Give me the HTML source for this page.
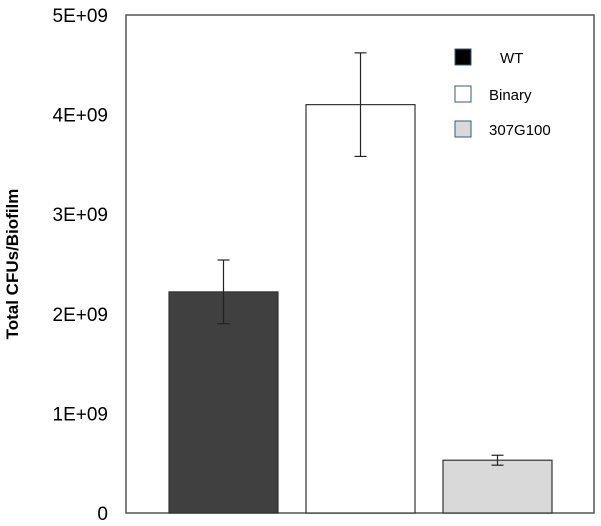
<!DOCTYPE html>
<html><head><meta charset="utf-8"><style>body{margin:0;background:#fff}svg{display:block}text{font-family:"Liberation Sans",sans-serif}</style></head>
<body>
<svg id="c" width="601" height="526">
<rect x="126" y="15" width="468" height="498" fill="none" stroke="#555" stroke-width="1.5"/>
<text x="18" y="264" transform="rotate(-90 18 264)" text-anchor="middle" font-size="17" font-weight="bold">Total CFUs/Biofilm</text>
<g id="ticks"></g><g id="bars"></g>
<g>
<rect x="455" y="49" width="16" height="16" fill="#000" stroke="#3a5a80"/>
<text x="500" y="63" font-size="15">WT</text>
<rect x="455" y="86" width="16" height="16" fill="#fff" stroke="#3a5a80"/>
<text x="489" y="100" font-size="15">Binary</text>
<rect x="455" y="121" width="16" height="16" fill="#d9d9d9" stroke="#3a5a80"/>
<text x="489" y="135" font-size="15">307G100</text>
</g>
</svg>
<script>
const categories=["WT","Binary","307G100"];
const values=[2.22e9,4.1e9,0.53e9];
const errors=[0.32e9,0.52e9,0.05e9];
const tickValues=[0,1e9,2e9,3e9,4e9,5e9];
const tickLabels=["0","1E+09","2E+09","3E+09","4E+09","5E+09"];
const fills=["#404040","#ffffff","#d9d9d9"];
const NS="http://www.w3.org/2000/svg";
const y=v=>513-v/5e9*498;
const x=i=>169+i*137;
const bw=109;
function mk(t,a,p){const e=document.createElementNS(NS,t);for(const k in a)e.setAttribute(k,a[k]);p.appendChild(e);return e;}
const tg=document.getElementById('ticks');
tickValues.forEach((v,i)=>{const t=mk('text',{x:108,y:y(v)+7,'text-anchor':'end','font-size':'19'},tg);t.textContent=tickLabels[i];

});
const bg=document.getElementById('bars');
values.forEach((v,i)=>{const r=mk('rect',{x:x(i),y:y(v),width:bw,height:513-y(v),fill:fills[i],stroke:'#333','stroke-width':1.2},bg);


const cx=x(i)+bw/2,g=mk('g',{stroke:'#222','stroke-width':1.2},bg);


mk('line',{x1:cx,x2:cx,y1:y(v+errors[i]),y2:y(v-errors[i])},g);
mk('line',{x1:cx-6,x2:cx+6,y1:y(v+errors[i]),y2:y(v+errors[i])},g);
mk('line',{x1:cx-6,x2:cx+6,y1:y(v-errors[i]),y2:y(v-errors[i])},g);});
</script>
</body></html>
